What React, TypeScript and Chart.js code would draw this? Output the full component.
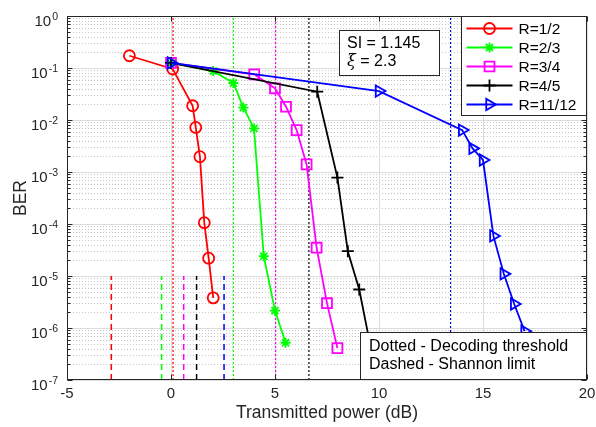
import { useEffect, useRef } from 'react';
import { Chart, registerables } from 'chart.js';
import { drawPoint } from 'chart.js/helpers';

Chart.register(...registerables);

// ---- data ----
const seriesLabels = ['R=1/2', 'R=2/3', 'R=3/4', 'R=4/5', 'R=11/12'];

const powerR12 = [-2, 0.08, 1.04, 1.19, 1.39, 1.6, 1.81, 2.03];
const berR12 = [0.172, 0.096, 0.0188, 0.0072, 0.00197, 1.06e-4, 2.2e-5, 3.8e-6];

const powerR23 = [0, 2.03, 3.0, 3.48, 3.99, 4.46, 5.0, 5.51];
const berR23 = [0.125, 0.0875, 0.0515, 0.0173, 0.0069, 2.4e-5, 2.15e-6, 5.2e-7];

const powerR34 = [0, 4.0, 5.0, 5.53, 6.04, 6.52, 7.0, 7.5, 8.0];
const berR34 = [0.125, 0.0757, 0.0407, 0.018, 0.0064, 0.0014, 3.5e-5, 3.0e-6, 4.1e-7];

const powerR45 = [0, 7.03, 8.0, 8.5, 9.05, 9.53];
const berR45 = [0.125, 0.035, 7.8e-4, 3.0e-5, 5.5e-6, 5.9e-7];

const powerR1112 = [0, 10.0, 14.0, 14.5, 15.0, 15.5, 16.0, 16.5, 17.0];
const berR1112 = [0.125, 0.036, 0.0064, 0.00285, 0.0017, 5.9e-5, 1.1e-5, 2.9e-6, 8.7e-7];

// decoding thresholds (dotted) and Shannon limits (dashed), one per rate
const decodingThreshold = [0.1, 3.0, 5.03, 6.63, 13.44];
const shannonLimit = [-2.87, -0.45, 0.61, 1.23, 2.55];
const shannonLineTop = 1e-5;

const xTicks = [-5, 0, 5, 10, 15, 20];
const yExponents = [0, -1, -2, -3, -4, -5, -6, -7];

const annotationLines = ['SI = 1.145', '= 2.3'];
const noteLines = ['Dotted - Decoding threshold', 'Dashed - Shannon limit'];
const xTitle = 'Transmitted power (dB)';
const yTitle = 'BER';

// ---- styles ----
const colors = ['#ff0000', '#00ff00', '#ff00ff', '#000000', '#0000ff'];
const pointStyles = ['circle', 'star', 'rect', 'cross', 'triangle'];
const pointRadii = [5.5, 5, 7, 6, 6.5];
const pointRotations = [0, 0, 0, 0, 90];
const FONT = '"Liberation Sans", Arial, Helvetica, sans-serif';
const AXIS = '#262626';
const LINE_W = 1.8;

const seriesX = [powerR12, powerR23, powerR34, powerR45, powerR1112];
const seriesY = [berR12, berR23, berR34, berR45, berR1112];

const overlay = {
  id: 'matlabOverlay',
  beforeDatasetsDraw(chart: any) {
    const { ctx, chartArea: a, scales } = chart;
    const xs = scales.x;
    const ys = scales.y;
    ctx.save();
    ctx.lineWidth = 1;
    // minor y grid (dotted)
    ctx.strokeStyle = '#c9c9c9';
    ctx.setLineDash([1, 2]);
    for (let e = -7; e < 0; e++) {
      for (let m = 2; m <= 9; m++) {
        const py = Math.round(ys.getPixelForValue(m * Math.pow(10, e))) + 0.5;
        ctx.beginPath();
        ctx.moveTo(a.left, py);
        ctx.lineTo(a.right, py);
        ctx.stroke();
      }
    }
    ctx.setLineDash([]);
    ctx.strokeStyle = '#dcdcdc';
    for (const e of yExponents) {
      const py = Math.round(ys.getPixelForValue(Math.pow(10, e))) + 0.5;
      ctx.beginPath();
      ctx.moveTo(a.left, py);
      ctx.lineTo(a.right, py);
      ctx.stroke();
    }
    for (const v of xTicks) {
      const px = Math.round(xs.getPixelForValue(v)) + 0.5;
      ctx.beginPath();
      ctx.moveTo(px, a.top);
      ctx.lineTo(px, a.bottom);
      ctx.stroke();
    }
    ctx.restore();
  },
  afterDraw(chart: any) {
    const { ctx, chartArea: a, scales } = chart;
    const xs = scales.x;
    const ys = scales.y;
    ctx.save();
    // axes box
    const L = Math.round(a.left) + 0.5;
    const R = Math.round(a.right) - 0.5;
    const T = Math.round(a.top) + 0.5;
    const B = Math.round(a.bottom) - 0.5;
    ctx.strokeStyle = AXIS;
    ctx.lineWidth = 1;
    ctx.strokeRect(L, T, R - L, B - T);
    // ticks
    ctx.beginPath();
    for (const v of xTicks) {
      const px = Math.round(xs.getPixelForValue(v)) + 0.5;
      ctx.moveTo(px, B); ctx.lineTo(px, B - 5);
      ctx.moveTo(px, T); ctx.lineTo(px, T + 5);
    }
    for (const e of yExponents) {
      const py = Math.round(ys.getPixelForValue(Math.pow(10, e))) + 0.5;
      ctx.moveTo(L, py); ctx.lineTo(L + 5, py);
      ctx.moveTo(R, py); ctx.lineTo(R - 5, py);
      if (e < 0) {
        for (let m = 2; m <= 9; m++) {
          const pm = Math.round(ys.getPixelForValue(m * Math.pow(10, e))) + 0.5;
          ctx.moveTo(L, pm); ctx.lineTo(L + 3, pm);
          ctx.moveTo(R, pm); ctx.lineTo(R - 3, pm);
        }
      }
    }
    ctx.stroke();

    // x tick labels
    ctx.fillStyle = AXIS;
    ctx.font = `15px ${FONT}`;
    ctx.textAlign = 'center';
    ctx.textBaseline = 'middle';
    for (const v of xTicks) {
      ctx.fillText(String(v), xs.getPixelForValue(v), a.bottom + 14);
    }
    // y tick labels 10^e
    for (const e of yExponents) {
      const py = ys.getPixelForValue(Math.pow(10, e));
      ctx.textAlign = 'right';
      ctx.textBaseline = 'alphabetic';
      ctx.font = `10.5px ${FONT}`;
      const expStr = String(e);
      const ew = ctx.measureText(expStr).width;
      const ex = a.left - 9;
      ctx.fillText(expStr, ex, py + 3.5);
      ctx.font = `15px ${FONT}`;
      ctx.fillText('10', ex - ew - 1, py + 9.5);
    }
    // axis titles
    ctx.textAlign = 'center';
    ctx.textBaseline = 'middle';
    ctx.font = `17.5px ${FONT}`;
    ctx.fillText(xTitle, (a.left + a.right) / 2, a.bottom + 33);
    ctx.save();
    ctx.translate(21, (a.top + a.bottom) / 2);
    ctx.rotate(-Math.PI / 2);
    ctx.fillText(yTitle, 0, 0);
    ctx.restore();

    // legend
    const lgR = Math.round(a.right) - 0.5;
    const lgL = lgR - 125;
    const lgT = Math.round(a.top) + 0.5;
    const lgB = lgT + 99;
    ctx.fillStyle = '#ffffff';
    ctx.fillRect(lgL, lgT, lgR - lgL, lgB - lgT);
    ctx.strokeStyle = AXIS;
    ctx.strokeRect(lgL, lgT, lgR - lgL, lgB - lgT);
    for (let i = 0; i < seriesLabels.length; i++) {
      const cy = lgT + 12 + i * 19;
      ctx.strokeStyle = colors[i];
      ctx.lineWidth = LINE_W;
      ctx.beginPath();
      ctx.moveTo(lgL + 5, cy);
      ctx.lineTo(lgL + 51, cy);
      ctx.stroke();
      ctx.fillStyle = 'rgba(0,0,0,0)';
      drawPoint(ctx, {
        pointStyle: pointStyles[i] as any,
        rotation: pointRotations[i],
        radius: pointRadii[i],
        borderWidth: LINE_W,
      } as any, lgL + 28, cy);
      ctx.fillStyle = '#000000';
      ctx.font = `15.5px ${FONT}`;
      ctx.textAlign = 'left';
      ctx.textBaseline = 'middle';
      ctx.fillText(seriesLabels[i], lgL + 57, cy + 1);
    }

    // SI / xi box
    ctx.lineWidth = 1;
    ctx.strokeStyle = AXIS;
    const bL = 339.5, bR = 439.5, bT = 30.5, bB = 75.5;
    ctx.fillStyle = '#ffffff';
    ctx.fillRect(bL, bT, bR - bL, bB - bT);
    ctx.strokeRect(bL, bT, bR - bL, bB - bT);
    ctx.fillStyle = '#000000';
    ctx.textAlign = 'left';
    ctx.textBaseline = 'middle';
    ctx.font = `16px ${FONT}`;
    ctx.fillText(annotationLines[0], 347, 44);
    ctx.font = `italic 16px "DejaVu Serif", serif`;
    ctx.fillText('\u03BE', 347, 62);
    const xiW = ctx.measureText('\u03BE').width;
    ctx.font = `16px ${FONT}`;
    ctx.fillText(' ' + annotationLines[1], 347 + xiW, 62);

    // note box
    const nL = 360.5, nR = lgR, nT = 332.5, nB = B;
    ctx.fillStyle = '#ffffff';
    ctx.fillRect(nL, nT, nR - nL, nB - nT);
    ctx.strokeStyle = AXIS;
    ctx.strokeRect(nL, nT, nR - nL, nB - nT);
    ctx.fillStyle = '#000000';
    ctx.font = `16px ${FONT}`;
    ctx.fillText(noteLines[0], 369, 347);
    ctx.fillText(noteLines[1], 369, 365);
    ctx.restore();
  },
};

export default function App() {
  const ref = useRef<HTMLCanvasElement | null>(null);
  useEffect(() => {
    if (!ref.current) return;
    const datasets: any[] = [];
    for (let i = 0; i < seriesLabels.length; i++) {
      datasets.push({
        label: seriesLabels[i],
        data: seriesX[i].map((x, k) => ({ x, y: seriesY[i][k] })),
        borderColor: colors[i],
        backgroundColor: 'rgba(0,0,0,0)',
        borderWidth: LINE_W,
        pointStyle: pointStyles[i],
        pointRadius: pointRadii[i],
        pointRotation: pointRotations[i],
        pointBorderWidth: LINE_W,
        pointBorderColor: colors[i],
        pointBackgroundColor: 'rgba(0,0,0,0)',
        tension: 0,
        order: 5 - i,
      });
    }
    for (let i = 0; i < decodingThreshold.length; i++) {
      datasets.push({
        label: 'thr' + i,
        data: [{ x: decodingThreshold[i], y: 1e-7 }, { x: decodingThreshold[i], y: 1 }],
        borderColor: colors[i],
        borderWidth: 1.2,
        borderDash: [2, 2],
        pointRadius: 0,
        order: 20,
      });
      datasets.push({
        label: 'sh' + i,
        data: [{ x: shannonLimit[i], y: 1e-7 }, { x: shannonLimit[i], y: shannonLineTop }],
        borderColor: colors[i],
        borderWidth: 1.5,
        borderDash: [6, 4],
        pointRadius: 0,
        order: 20,
      });
    }
    const chart = new Chart(ref.current, {
      type: 'line',
      data: { datasets },
      options: {
        animation: false,
        responsive: true,
        maintainAspectRatio: false,
        layout: { padding: { left: 67, right: 9, top: 16, bottom: 47 } },
        scales: {
          x: { type: 'linear', min: -5, max: 20, display: false },
          y: { type: 'logarithmic', min: 1e-7, max: 1, display: false },
        },
        plugins: { legend: { display: false }, tooltip: { enabled: false } },
      },
      plugins: [overlay],
    } as any);
    return () => chart.destroy();
  }, []);
  return (
    <div style={{ position: 'fixed', left: 0, top: 0, width: 596, height: 427, background: '#fff' }}>
      <canvas ref={ref} />
    </div>
  );
}
